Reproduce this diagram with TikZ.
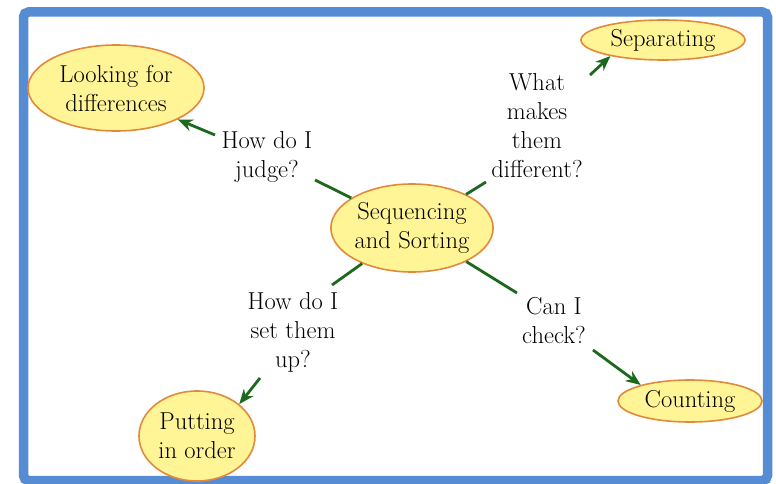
\documentclass[tikz,border=0pt]{standalone}
\usetikzlibrary{shapes.geometric,arrows.meta}
\definecolor{frameblue}{RGB}{86,140,212}
\definecolor{nodefill}{RGB}{255,245,150}
\definecolor{nodeedge}{RGB}{226,138,60}
\definecolor{linkgreen}{RGB}{28,104,28}
\tikzset{
  concept/.style={ellipse, draw=nodeedge, line width=1.6pt, fill=nodefill, align=center, inner sep=0pt, font=\rmfamily\fontsize{24.5}{29}\selectfont},
  linklabel/.style={align=center, inner sep=3pt, font=\rmfamily\fontsize{24.5}{29}\selectfont},
  link/.style={draw=linkgreen, line width=2.8pt},
  arrowlink/.style={link, -{Stealth[length=15pt,width=12pt]}}
}
\begin{document}
\begin{tikzpicture}[x=1pt,y=-1pt]
\useasboundingbox (0,0) rectangle (776,484);
\fill[white] (0,0) rectangle (776,484);
\draw[frameblue, line width=9.5pt, rounded corners=5pt] (23.5,12) rectangle (767.5,480.5);

\node[concept, minimum width=176pt, minimum height=86pt] (look) at (116,88) {Looking for\\differences};
\node[concept, minimum width=164pt, minimum height=40pt] (sep) at (663,40) {Separating};
\node[concept, minimum width=154pt, minimum height=88pt] (seq) at (412,228) {Sequencing\\and Sorting};
\node[concept, minimum width=116pt, minimum height=90pt] (put) at (197,436) {Putting\\in order};
\node[concept, minimum width=144pt, minimum height=42pt] (count) at (690,401) {Counting};

\node[linklabel] (judge) at (267,157) {How do I\\judge?};
\node[linklabel] (what) at (537,126) {What\\makes\\them\\different?};
\node[linklabel] (setup) at (293,332) {How do I\\set them\\up?};
\node[linklabel] (check) at (554,321) {Can I\\check?};

% label-side ends of the connectors
\coordinate (judgeIn) at (315,180);
\coordinate (judgeOut) at (215,135);
\coordinate (whatIn) at (486,182);
\coordinate (whatOut) at (590,75);
\coordinate (setupIn) at (332,285);
\coordinate (setupOut) at (260,378);
\coordinate (checkIn) at (517,293);
\coordinate (checkOut) at (593,350);

\draw[link] (seq) -- (judgeIn);
\draw[arrowlink] (judgeOut) -- (look.-27);
\draw[link] (seq) -- (whatIn);
\draw[arrowlink] (whatOut) -- (sep.197);
\draw[link] (seq) -- (setupIn);
\draw[arrowlink] (setupOut) -- (put.37);
\draw[link] (seq) -- (checkIn);
\draw[arrowlink] (checkOut) -- (count.162);
\end{tikzpicture}
\end{document}
